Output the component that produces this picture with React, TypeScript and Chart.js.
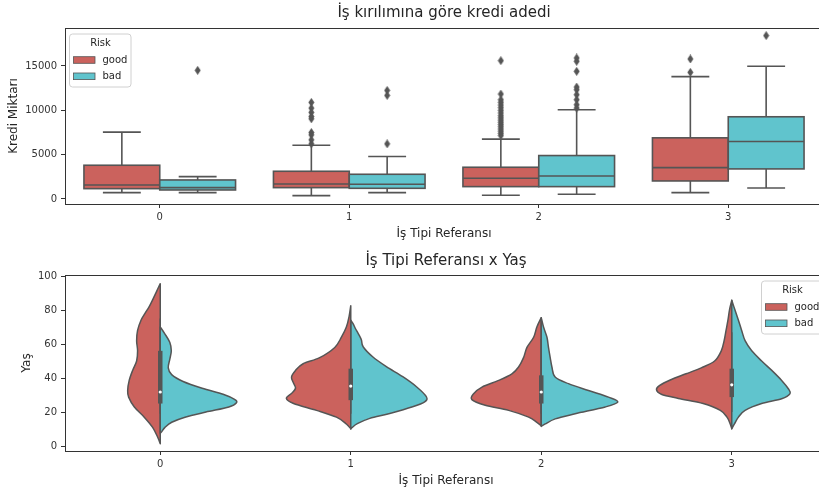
import React, { useEffect, useRef } from 'react';
import { Chart, registerables } from 'chart.js';
Chart.register(...registerables);

const FONT = '"DejaVu Sans", sans-serif';
const GOOD_COLOR = 'rgb(203,98,93)';
const BAD_COLOR = 'rgb(96,196,205)';
const LINE = '#555555';
const TEXT = '#262626';
const AXIS = '#333333';

const categories = [0, 1, 2, 3];
const hueLabels = ['good', 'bad'];
const creditTicks = [0, 5000, 10000, 15000];
const ageTicks = [0, 20, 40, 60, 80, 100];

// Kredi Miktarı box plots (per category 0..3)
const goodLow = [716, 377, 415, 716];
const goodQ1 = [1168, 1282, 1395, 2035];
const goodMed = [1583, 1696, 2337, 3543];
const goodQ3 = [3807, 3128, 3581, 6898];
const goodHigh = [7538, 6069, 6747, 13796];
const badLow = [716, 716, 528, 1244];
const badQ1 = [1018, 1206, 1395, 3392];
const badMed = [1282, 1658, 2600, 6483];
const badQ3 = [2148, 2789, 4900, 9273];
const badHigh = [2525, 4787, 10064, 14964];
const goodOutliers = [
  [],
  [10893, 10253, 9763, 9310, 9046, 7500, 7237, 6672, 6219],
  [15605, 11836, 11200, 10900, 10600, 10300, 10000, 9700, 9400, 9150, 8900, 8650, 8400, 8150, 7900, 7650, 7400, 7150],
  [15793, 14286],
];
const badOutliers = [
  [14512],
  [12250, 11685, 6219],
  [15906, 15530, 14399, 12627, 12326, 11760, 11195, 10630, 10253],
  [18432],
];

// Yaş violins: [age, half-width in category units]
const violinGood0 = [[95.5, 0], [91, 0.019], [86, 0.04], [82, 0.058], [78, 0.08], [74, 0.101], [68, 0.119], [62, 0.124], [56, 0.119], [50, 0.124], [44.5, 0.145], [38.6, 0.163], [32.7, 0.171], [28.8, 0.166], [23, 0.136], [17, 0.084], [11, 0.04], [5.3, 0.014], [1.4, 0]];
const violinBad0 = [[70, 0], [66, 0.024], [61, 0.05], [56, 0.058], [51, 0.05], [46, 0.042], [42, 0.06], [38, 0.12], [34, 0.22], [30.5, 0.33], [27.5, 0.39], [25.5, 0.4], [23, 0.36], [20, 0.24], [17, 0.13], [14, 0.06], [11, 0.025], [8.5, 0.008], [7.5, 0]];
const violinGood1 = [[82.5, 0], [76, 0.009], [70, 0.023], [64, 0.049], [58, 0.084], [52, 0.163], [48.4, 0.25], [44.5, 0.29], [40.6, 0.311], [37, 0.3], [34, 0.29], [31, 0.31], [28, 0.338], [25, 0.3], [21, 0.18], [17, 0.075], [13, 0.023], [10.2, 0]];
const violinBad1 = [[74, 0], [72, 0.012], [69, 0.025], [66, 0.04], [62.4, 0.056], [58.4, 0.065], [52.5, 0.115], [46.7, 0.187], [40.8, 0.273], [34.9, 0.345], [29, 0.397], [26, 0.388], [23.1, 0.325], [19.2, 0.205], [16.3, 0.1], [13.3, 0.037], [11, 0.008], [10, 0]];
const violinGood2 = [[75.5, 0], [70, 0.023], [64, 0.04], [58, 0.075], [52, 0.093], [46.5, 0.119], [42.5, 0.154], [38.6, 0.224], [34.7, 0.311], [30.8, 0.355], [27.3, 0.364], [24, 0.294], [21, 0.171], [17, 0.066], [14, 0.023], [12, 0]];
const violinBad2 = [[75.5, 0], [70, 0.012], [64, 0.03], [58, 0.038], [52, 0.047], [46.5, 0.056], [40.6, 0.073], [36.7, 0.143], [32.7, 0.248], [28.8, 0.353], [25.9, 0.402], [23, 0.336], [19, 0.178], [16, 0.073], [13, 0.021], [11.6, 0]];
const violinGood3 = [[85.7, 0], [80, 0.012], [74, 0.02], [68, 0.03], [62, 0.04], [56, 0.055], [50, 0.09], [46, 0.16], [42.5, 0.24], [39, 0.32], [35.5, 0.38], [33, 0.395], [30.5, 0.37], [28, 0.28], [25, 0.15], [21, 0.06], [17, 0.025], [13, 0.008], [10.2, 0]];
const violinBad3 = [[85.7, 0], [80, 0.017], [74, 0.035], [68, 0.052], [62, 0.07], [56, 0.105], [50, 0.157], [44.5, 0.21], [38.6, 0.262], [33.7, 0.297], [30.8, 0.306], [27.8, 0.262], [25, 0.157], [21, 0.07], [17, 0.035], [13, 0.014], [10.2, 0]];
const violinsGood = [violinGood0, violinGood1, violinGood2, violinGood3];
const violinsBad = [violinBad0, violinBad1, violinBad2, violinBad3];
const ageLow = [19, 19, 19, 20];
const ageQ1 = [25, 27, 25, 28.8];
const ageMed = [31.8, 35.3, 31.8, 36];
const ageQ3 = [56, 45.5, 41.6, 45.5];
const ageHigh = [75, 74, 63, 67];

const DODGE = 0.2;
const BOX_HALF = 0.2;
const CAP_HALF = 0.1;

function makeDiamond(): HTMLCanvasElement {
  const c = document.createElement('canvas');
  c.width = 7;
  c.height = 9;
  const g = c.getContext('2d') as CanvasRenderingContext2D;
  g.fillStyle = LINE;
  g.beginPath();
  g.moveTo(3.5, 0);
  g.lineTo(6.5, 4.5);
  g.lineTo(3.5, 9);
  g.lineTo(0.5, 4.5);
  g.closePath();
  g.fill();
  return c;
}

function drawFrame(chart: any) {
  const { ctx, chartArea: a } = chart;
  ctx.save();
  ctx.strokeStyle = AXIS;
  ctx.lineWidth = 1;
  ctx.strokeRect(Math.round(a.left) + 0.5, Math.round(a.top) + 0.5, Math.round(a.right - a.left), Math.round(a.bottom - a.top));
  ctx.restore();
}

function drawLegend(chart: any, anchor: 'left' | 'right') {
  const { ctx, chartArea: a } = chart;
  const w = 61.5, h = 53;
  const left = anchor === 'left' ? a.left + 4.5 : a.right - 4 - w;
  const top = a.top + 6;
  ctx.save();
  ctx.beginPath();
  const r = 3;
  ctx.moveTo(left + r, top);
  ctx.arcTo(left + w, top, left + w, top + h, r);
  ctx.arcTo(left + w, top + h, left, top + h, r);
  ctx.arcTo(left, top + h, left, top, r);
  ctx.arcTo(left, top, left + w, top, r);
  ctx.closePath();
  ctx.fillStyle = 'rgba(255,255,255,0.85)';
  ctx.fill();
  ctx.strokeStyle = '#d0d0d0';
  ctx.lineWidth = 1;
  ctx.stroke();
  ctx.fillStyle = TEXT;
  ctx.font = `10px ${FONT}`;
  ctx.textAlign = 'center';
  ctx.textBaseline = 'middle';
  ctx.fillText('Risk', left + 31, top + 9.5);
  const colors = [GOOD_COLOR, BAD_COLOR];
  hueLabels.forEach((lab, i) => {
    const cy = top + 26 + i * 16.3;
    ctx.fillStyle = colors[i];
    ctx.fillRect(left + 4, cy - 3.3, 21.5, 6.6);
    ctx.strokeStyle = LINE;
    ctx.lineWidth = 0.8;
    ctx.strokeRect(left + 4, cy - 3.3, 21.5, 6.6);
    ctx.fillStyle = TEXT;
    ctx.textAlign = 'left';
    ctx.fillText(lab, left + 33, cy);
  });
  ctx.restore();
}

const boxPlugin = {
  id: 'boxes',
  beforeDatasetsDraw(chart: any) {
    const { ctx, scales } = chart;
    const xs = scales.x, ys = scales.y;
    const groups = [
      { low: goodLow, q1: goodQ1, med: goodMed, q3: goodQ3, high: goodHigh, off: -DODGE, color: GOOD_COLOR },
      { low: badLow, q1: badQ1, med: badMed, q3: badQ3, high: badHigh, off: DODGE, color: BAD_COLOR },
    ];
    ctx.save();
    ctx.strokeStyle = LINE;
    ctx.lineWidth = 1.6;
    categories.forEach((c, i) => {
      groups.forEach((g) => {
        const cx = xs.getPixelForValue(c + g.off);
        const x0 = xs.getPixelForValue(c + g.off - BOX_HALF);
        const x1 = xs.getPixelForValue(c + g.off + BOX_HALF);
        const cap0 = xs.getPixelForValue(c + g.off - CAP_HALF);
        const cap1 = xs.getPixelForValue(c + g.off + CAP_HALF);
        const yLow = ys.getPixelForValue(g.low[i]);
        const yQ1 = ys.getPixelForValue(g.q1[i]);
        const yMed = ys.getPixelForValue(g.med[i]);
        const yQ3 = ys.getPixelForValue(g.q3[i]);
        const yHigh = ys.getPixelForValue(g.high[i]);
        ctx.beginPath();
        ctx.moveTo(cx, yQ3); ctx.lineTo(cx, yHigh);
        ctx.moveTo(cap0, yHigh); ctx.lineTo(cap1, yHigh);
        ctx.moveTo(cx, yQ1); ctx.lineTo(cx, yLow);
        ctx.moveTo(cap0, yLow); ctx.lineTo(cap1, yLow);
        ctx.stroke();
        ctx.fillStyle = g.color;
        ctx.fillRect(x0, yQ3, x1 - x0, yQ1 - yQ3);
        ctx.strokeRect(x0, yQ3, x1 - x0, yQ1 - yQ3);
        ctx.beginPath();
        ctx.moveTo(x0, yMed); ctx.lineTo(x1, yMed);
        ctx.stroke();
      });
    });
    ctx.restore();
  },
  afterDraw(chart: any) {
    drawFrame(chart);
    drawLegend(chart, 'left');
  },
};

function smoothPath(ctx: CanvasRenderingContext2D, pts: number[][]) {
  ctx.moveTo(pts[0][0], pts[0][1]);
  for (let i = 0; i < pts.length - 1; i++) {
    const p0 = pts[i - 1] || pts[i];
    const p1 = pts[i];
    const p2 = pts[i + 1];
    const p3 = pts[i + 2] || p2;
    ctx.bezierCurveTo(
      p1[0] + (p2[0] - p0[0]) / 6, p1[1] + (p2[1] - p0[1]) / 6,
      p2[0] - (p3[0] - p1[0]) / 6, p2[1] - (p3[1] - p1[1]) / 6,
      p2[0], p2[1]
    );
  }
}

const violinPlugin = {
  id: 'violins',
  afterDatasetsDraw(chart: any) {
    const { ctx, scales } = chart;
    const xs = scales.x, ys = scales.y;
    ctx.save();
    categories.forEach((c, i) => {
      [
        { data: violinsGood[i], sign: -1, color: GOOD_COLOR },
        { data: violinsBad[i], sign: 1, color: BAD_COLOR },
      ].forEach((h) => {
        const pts = h.data.map(([age, w]) => [xs.getPixelForValue(c + h.sign * w), ys.getPixelForValue(age)]);
        ctx.beginPath();
        smoothPath(ctx, pts);
        ctx.closePath();
        ctx.fillStyle = h.color;
        ctx.fill();
        ctx.strokeStyle = LINE;
        ctx.lineWidth = 1.5;
        ctx.lineJoin = 'round';
        ctx.stroke();
      });
      const cx = xs.getPixelForValue(c);
      ctx.strokeStyle = LINE;
      ctx.lineWidth = 1.5;
      ctx.beginPath();
      ctx.moveTo(cx, ys.getPixelForValue(ageLow[i]));
      ctx.lineTo(cx, ys.getPixelForValue(ageHigh[i]));
      ctx.stroke();
      ctx.lineWidth = 4.5;
      ctx.beginPath();
      ctx.moveTo(cx, ys.getPixelForValue(ageQ1[i]));
      ctx.lineTo(cx, ys.getPixelForValue(ageQ3[i]));
      ctx.stroke();
      ctx.fillStyle = '#ffffff';
      ctx.beginPath();
      ctx.arc(cx, ys.getPixelForValue(ageMed[i]), 1.6, 0, Math.PI * 2);
      ctx.fill();
    });
    ctx.restore();
  },
  afterDraw(chart: any) {
    drawFrame(chart);
    drawLegend(chart, 'right');
  },
};

function xScale(title: string) {
  return {
    type: 'linear',
    min: -0.5,
    max: 3.5,
    afterBuildTicks: (s: any) => { s.ticks = categories.map((v) => ({ value: v })); },
    afterFit: (s: any) => { s.height = 42; },
    ticks: { callback: (v: any) => String(v), font: { family: FONT, size: 10 }, color: AXIS, padding: 3, maxRotation: 0 },
    grid: { drawOnChartArea: false, drawTicks: true, tickLength: 4, color: AXIS, tickColor: AXIS },
    border: { display: false },
    title: { display: true, text: title, font: { family: FONT, size: 12 }, color: TEXT, padding: { top: 0, bottom: 5 } },
  };
}

function yScale(min: number, max: number, ticks: number[], title: string, titlePad: number) {
  return {
    type: 'linear',
    min,
    max,
    afterBuildTicks: (s: any) => { s.ticks = ticks.map((v) => ({ value: v })); },
    afterFit: (s: any) => { s.width = 65; },
    ticks: { callback: (v: any) => String(v), font: { family: FONT, size: 10 }, color: AXIS, padding: 4 },
    grid: { drawOnChartArea: false, drawTicks: true, tickLength: 4, color: AXIS, tickColor: AXIS },
    border: { display: false },
    title: { display: true, text: title, font: { family: FONT, size: 12 }, color: TEXT, padding: { top: titlePad, bottom: 0 } },
  };
}

function titleOpts(text: string, padTop: number, padBottom: number) {
  return {
    display: true,
    text,
    fullSize: false,
    font: { family: FONT, size: 15, weight: 'normal' },
    color: TEXT,
    padding: { top: padTop, bottom: padBottom },
  };
}

export default function App() {
  const topRef = useRef<HTMLCanvasElement>(null);
  const botRef = useRef<HTMLCanvasElement>(null);

  useEffect(() => {
    const diamond = makeDiamond();
    const goodPts: any[] = [];
    const badPts: any[] = [];
    categories.forEach((c, i) => {
      goodOutliers[i].forEach((v) => goodPts.push({ x: c - DODGE, y: v }));
      badOutliers[i].forEach((v) => badPts.push({ x: c + DODGE, y: v }));
    });
    const top = new Chart(topRef.current as HTMLCanvasElement, {
      type: 'scatter',
      data: {
        datasets: [
          { label: hueLabels[0], data: goodPts, pointStyle: diamond, pointRadius: 4, backgroundColor: LINE, borderColor: LINE, borderWidth: 0 },
          { label: hueLabels[1], data: badPts, pointStyle: diamond, pointRadius: 4, backgroundColor: LINE, borderColor: LINE, borderWidth: 0 },
        ],
      },
      options: {
        responsive: false,
        animation: false,
        devicePixelRatio: 1,
        layout: { padding: { top: 1, left: 0, right: 0, bottom: 0 } },
        plugins: {
          legend: { display: false },
          tooltip: { enabled: false },
          title: titleOpts('İş kırılımına göre kredi adedi', 3, 6),
        },
        scales: {
          x: xScale('İş Tipi Referansı'),
          y: yScale(-564, 19285, creditTicks, 'Kredi Miktarı', 7),
        },
      } as any,
      plugins: [boxPlugin],
    });
    const bot = new Chart(botRef.current as HTMLCanvasElement, {
      type: 'scatter',
      data: { datasets: [] },
      options: {
        responsive: false,
        animation: false,
        devicePixelRatio: 1,
        layout: { padding: { top: 4, left: 0, right: 0, bottom: 0 } },
        plugins: {
          legend: { display: false },
          tooltip: { enabled: false },
          title: titleOpts('İş Tipi Referansı x Yaş', 2, 5),
        },
        scales: {
          x: xScale('İş Tipi Referansı'),
          y: yScale(-2.9, 100.6, ageTicks, 'Yaş', 20),
        },
      } as any,
      plugins: [violinPlugin],
    });
    return () => { top.destroy(); bot.destroy(); };
  }, []);

  return (
    <div style={{ position: 'absolute', left: 0, top: 0, width: 819, height: 493, overflow: 'hidden', background: '#ffffff' }}>
      <canvas ref={topRef} width={827} height={246} style={{ position: 'absolute', left: 0, top: 0, width: 827, height: 246 }} />
      <canvas ref={botRef} width={827} height={247} style={{ position: 'absolute', left: 0, top: 246, width: 827, height: 247 }} />
    </div>
  );
}
